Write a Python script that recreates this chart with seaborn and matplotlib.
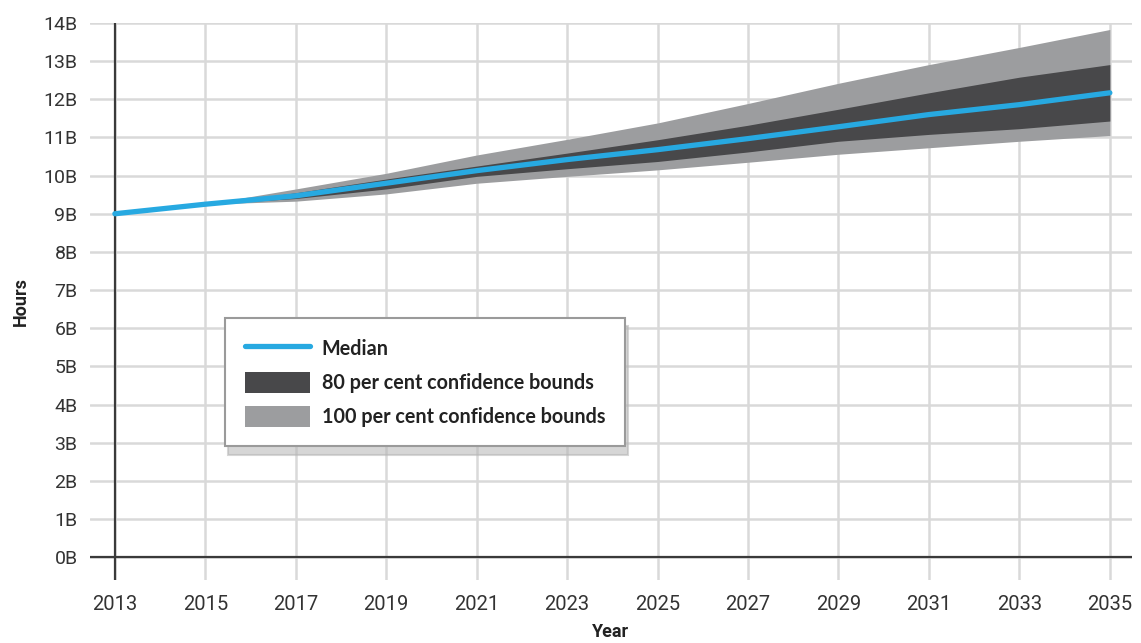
import numpy as np
import pandas as pd
import matplotlib
matplotlib.use("Agg")
import matplotlib.pyplot as plt
import seaborn as sns

# ---- data (billions of hours) ----
years = [2013, 2015, 2017, 2019, 2021, 2023, 2025, 2027, 2029, 2031, 2033, 2035]
median = [9.0, 9.25, 9.47, 9.80, 10.13, 10.42, 10.68, 10.97, 11.28, 11.60, 11.86, 12.17]
ci80_low = [9.0, 9.25, 9.40, 9.65, 9.98, 10.18, 10.37, 10.62, 10.90, 11.08, 11.23, 11.43]
ci80_high = [9.0, 9.25, 9.55, 9.91, 10.25, 10.59, 10.94, 11.32, 11.74, 12.17, 12.58, 12.91]
ci100_low = [9.0, 9.25, 9.33, 9.52, 9.80, 9.98, 10.15, 10.35, 10.56, 10.73, 10.90, 11.05]
ci100_high = [9.0, 9.25, 9.65, 10.06, 10.54, 10.95, 11.38, 11.89, 12.42, 12.91, 13.36, 13.83]
y_ticks = list(range(0, 15))
y_tick_labels = [f"{v}B" for v in y_ticks]
x_ticks = years

df = pd.DataFrame({"Year": years, "Median": median})

sns.set_theme(style="white")
plt.rcParams["font.family"] = ["Roboto", "DejaVu Sans"]

fig = plt.figure(figsize=(11.41, 6.43), dpi=100)
ax = fig.add_axes([90 / 1141, 1 - 580 / 643, (1132 - 90) / 1141, (580 - 23) / 643])

light = "#9c9d9f"
dark = "#48484a"
blue = "#27a9e1"

ax.fill_between(years, ci100_low, ci100_high, color=light, lw=0, zorder=2,
                label="100 per cent confidence bounds")
ax.fill_between(years, ci80_low, ci80_high, color=dark, lw=0, zorder=3,
                label="80 per cent confidence bounds")
sns.lineplot(data=df, x="Year", y="Median", ax=ax, color=blue, lw=3.8,
             zorder=4, label="Median", legend=False)

ax.set_xlim(2012.45, 2035.49)
ax.set_ylim(-0.60, 14.0)
ax.set_xticks(x_ticks)
ax.set_xticklabels([str(y) for y in x_ticks])
ax.set_yticks(y_ticks)
ax.set_yticklabels(y_tick_labels)
ax.grid(True, color="#d9d9d9", lw=1.8, zorder=0)
ax.set_axisbelow(True)
for s in ax.spines.values():
    s.set_visible(False)
ax.axvline(years[0], color="#3a3a3a", lw=1.6, zorder=1.5)
ax.axhline(0, color="#3a3a3a", lw=1.6, zorder=1.5)

ax.tick_params(axis="x", length=0, pad=11, labelsize=14.5, labelcolor="#333333")
ax.tick_params(axis="y", length=0, pad=9, labelsize=14, labelcolor="#333333")

ax.set_xlabel("Year", fontsize=13, fontweight="bold", color="#222222", labelpad=6)
ax.set_ylabel("Hours", fontsize=13, fontweight="bold", color="#222222", labelpad=10)

handles, labels = ax.get_legend_handles_labels()
order = [labels.index("Median"), labels.index("80 per cent confidence bounds"),
         labels.index("100 per cent confidence bounds")]
leg = ax.legend([handles[i] for i in order], [labels[i] for i in order],
                loc="upper left", bbox_to_anchor=(0.1296, 0.4704), borderaxespad=0,
                prop={"family": ["Lato", "DejaVu Sans"], "weight": "bold", "size": 14.2},
                handlelength=3.3, handleheight=1.26, handletextpad=0.6,
                labelspacing=0.65, borderpad=1.0, fancybox=False,
                frameon=True, shadow={"color": "#b5b5b5", "alpha": 0.55, "ox": 2, "oy": -6})
leg.get_frame().set_edgecolor("#9a9a9a")
leg.get_frame().set_linewidth(1.5)
for t in leg.get_texts():
    t.set_color("#222222")
leg.set_zorder(10)

fig.savefig("out.png", dpi=100)
